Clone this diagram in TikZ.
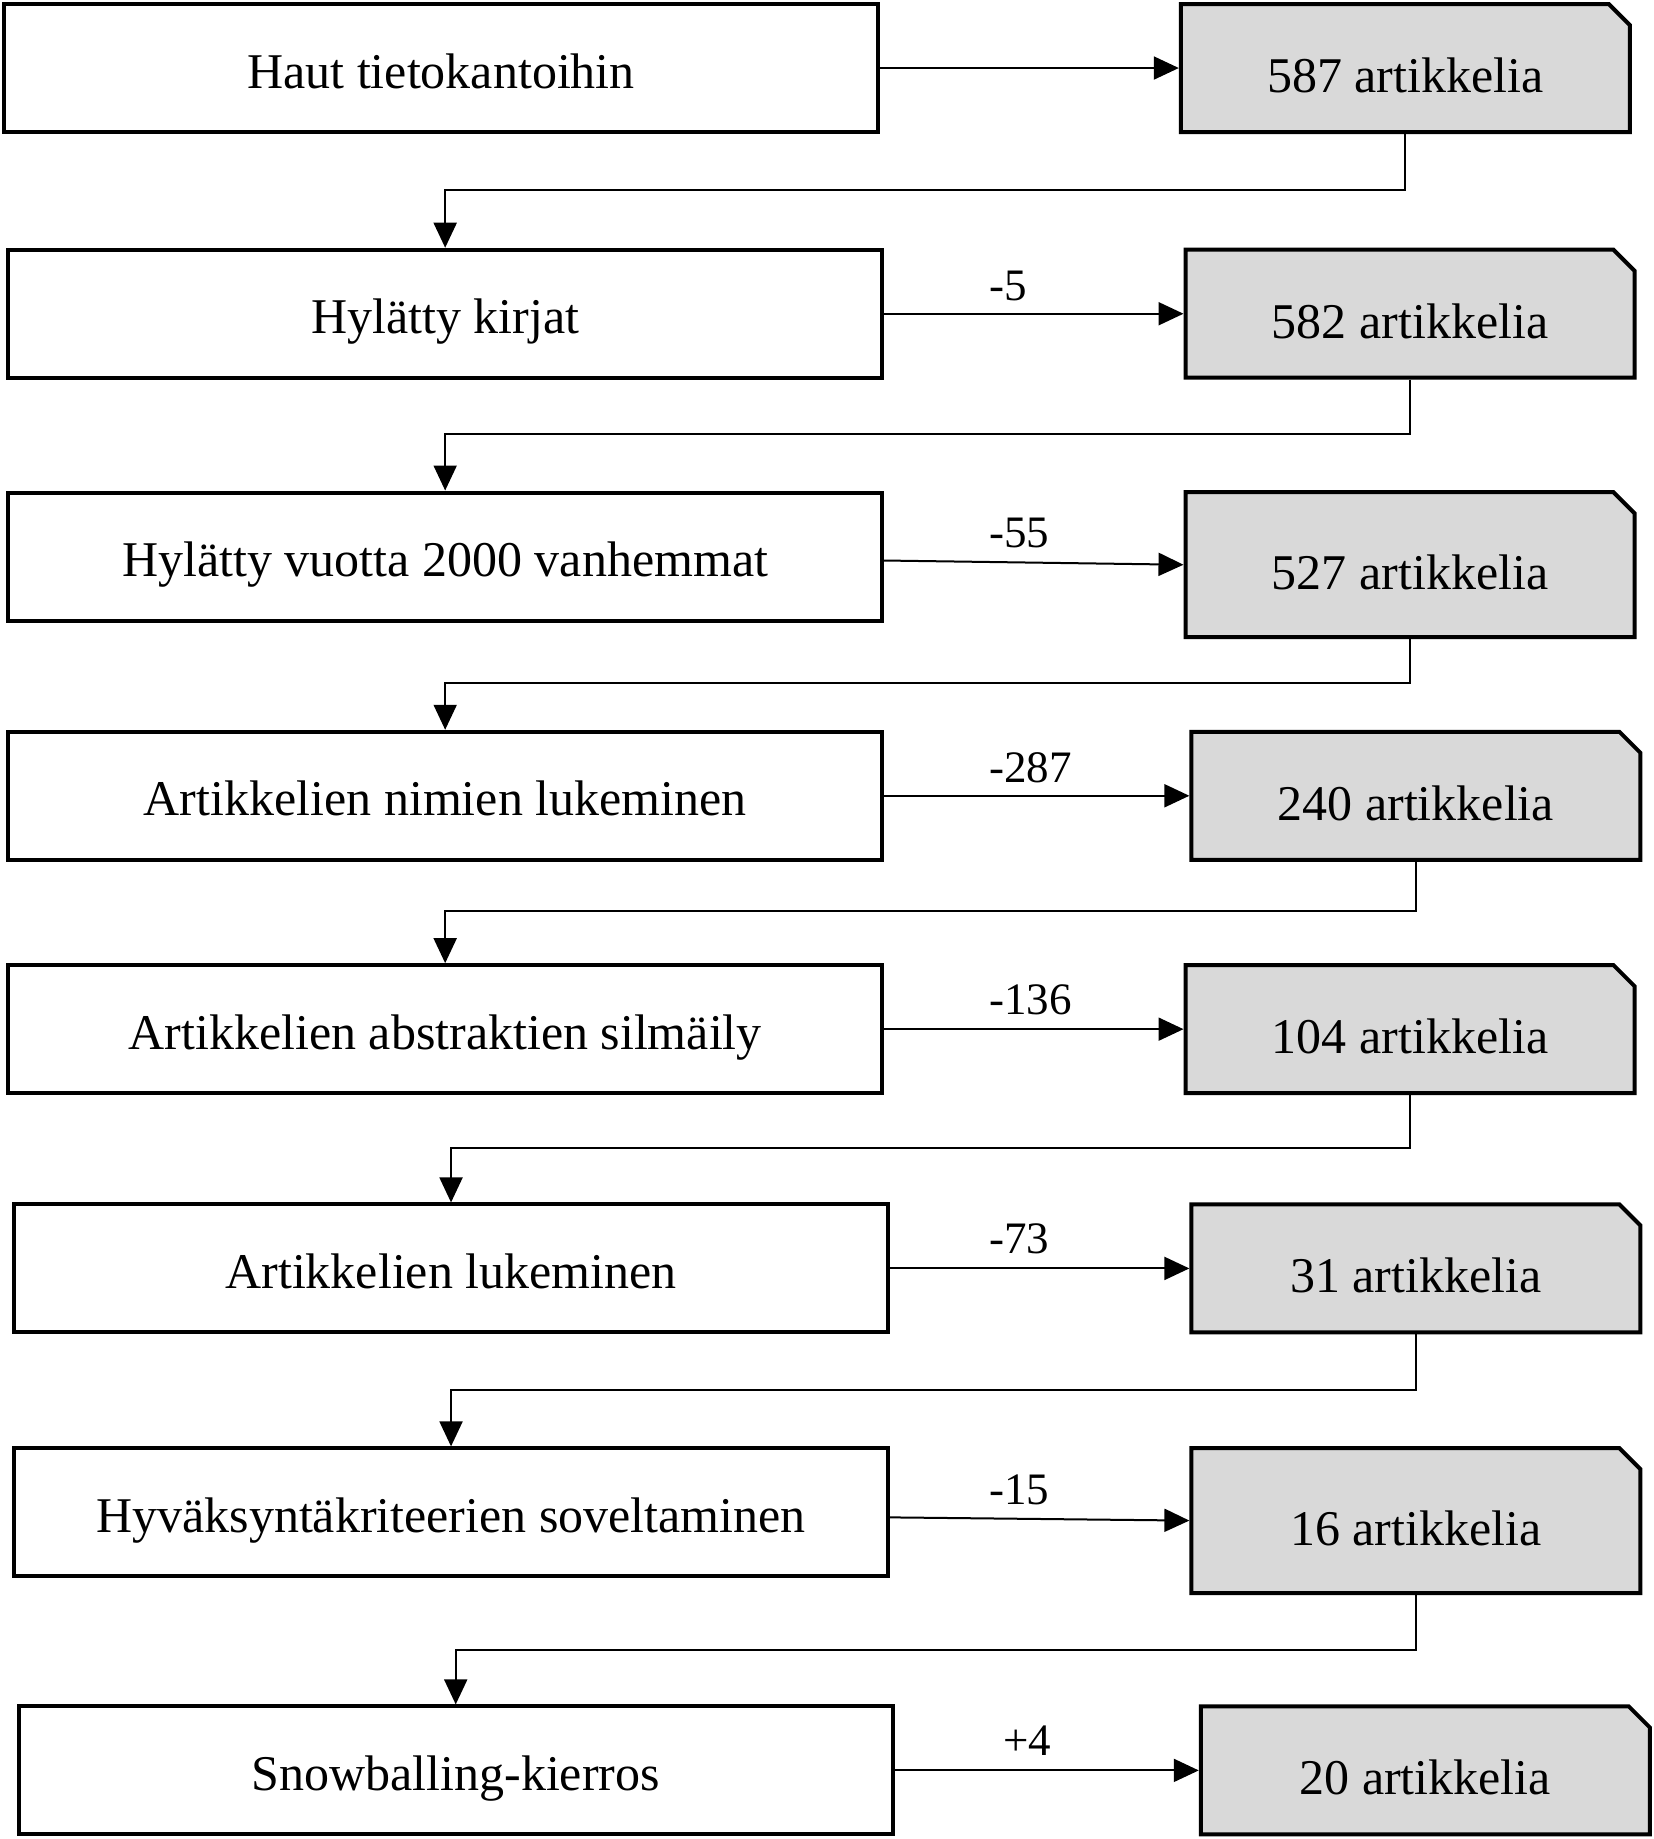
\documentclass[tikz,border=0pt]{standalone}
\usepackage{fontspec}
\setmainfont{Liberation Serif}
\usetikzlibrary{arrows.meta}
\pgfdeclarelayer{background}
\pgfsetlayers{background,main}
\definecolor{boxgrey}{HTML}{D9D9D9}
\begin{document}
\begin{tikzpicture}[x=1.17305pt,y=-1.17283pt,
  stepbox/.style={draw, line width=4pt, line join=miter, inner sep=0pt, outer sep=2pt,
    minimum width=874pt, minimum height=128pt,
    font=\fontsize{50}{60}\selectfont, text height=40pt, text depth=0pt},
  countbox/.style={inner sep=0pt, outer sep=2pt,
    minimum width=449pt, minimum height=128pt,
    font=\fontsize{50}{60}\selectfont, text height=49pt, text depth=0pt},
  tallbox/.style={minimum height=145pt},
  conn/.style={line width=2pt, -{Triangle[length=25pt,width=23pt]}},
  lbl/.style={anchor=base west, inner sep=0pt, font=\fontsize{45}{54}\selectfont}]
\useasboundingbox (0,0) rectangle (1410,1568);

% left process boxes
\node[stepbox] (L1) at (376,58)    {Haut tietokantoihin};
\node[stepbox] (L2) at (379.5,267.5) {Hylätty kirjat};
\node[stepbox] (L3) at (379.5,474.5) {Hylätty vuotta 2000 vanhemmat};
\node[stepbox] (L4) at (379.5,678.5) {Artikkelien nimien lukeminen};
\node[stepbox] (L5) at (379.5,877.5) {Artikkelien abstraktien silmäily};
\node[stepbox] (L6) at (384.5,1081.5) {Artikkelien lukeminen};
\node[stepbox] (L7) at (384.5,1289.5) {Hyväksyntäkriteerien soveltaminen};
\node[stepbox] (L8) at (388.5,1509.5) {Snowballing-kierros};

% right count boxes
\node[countbox] (G1) at (1198,58)     {587 artikkelia};
\node[countbox] (G2) at (1202,267.5)  {582 artikkelia};
\node[countbox,tallbox] (G3) at (1202,481.5) {527 artikkelia};
\node[countbox] (G4) at (1207,678.5)  {240 artikkelia};
\node[countbox] (G5) at (1202,877.5)  {104 artikkelia};
\node[countbox] (G6) at (1207,1081.5) {31 artikkelia};
\node[countbox,tallbox] (G7) at (1207,1296.5) {16 artikkelia};
\node[countbox] (G8) at (1215,1509.5) {20 artikkelia};

\begin{pgfonlayer}{background}
  \foreach \g in {G1,G2,G3,G4,G5,G6,G7,G8}{
    \draw[line width=4pt, line join=miter, fill=boxgrey]
      ([shift={(2pt,2pt)}]\g.south west) -- ([shift={(2pt,-2pt)}]\g.north west)
      -- ([shift={(-23pt,-2pt)}]\g.north east) -- ([shift={(-2pt,-23pt)}]\g.north east)
      -- ([shift={(-2pt,2pt)}]\g.south east) -- cycle;
  }
\end{pgfonlayer}

% horizontal arrows
\draw[conn] (L1.east) -- (G1.west);
\draw[conn] (L2.east) -- (G2.west);
\draw[conn] ([yshift=-4pt]L3.east) -- (G3.west);
\draw[conn] (L4.east) -- (G4.west);
\draw[conn] (L5.east) -- (G5.west);
\draw[conn] (L6.east) -- (G6.west);
\draw[conn] ([yshift=-5pt]L7.east) -- (G7.west);
\draw[conn] (L8.east) -- (G8.west);

% arrow labels
\node[lbl] (n2) at (843,256)  {-5};
\node[lbl] (n3) at (843,467)  {-55};
\node[lbl] (n4) at (843,667)  {-287};
\node[lbl] (n5) at (843,865)  {-136};
\node[lbl] (n6) at (843,1069) {-73};
\node[lbl] (n7) at (843,1283) {-15};
\node[lbl] (n8) at (855,1497) {+4};

% vertical connectors
\coordinate (m1) at (0,162);
\coordinate (m2) at (0,370);
\coordinate (m3) at (0,582);
\coordinate (m4) at (0,777);
\coordinate (m5) at (0,979);
\coordinate (m6) at (0,1185);
\coordinate (m7) at (0,1407);
\draw[conn] (G1.south) |- (L2.north |- m1) -- (L2.north);
\draw[conn] (G2.south) |- (L3.north |- m2) -- (L3.north);
\draw[conn] (G3.south) |- (L4.north |- m3) -- (L4.north);
\draw[conn] (G4.south) |- (L5.north |- m4) -- (L5.north);
\draw[conn] (G5.south) |- (L6.north |- m5) -- (L6.north);
\draw[conn] (G6.south) |- (L7.north |- m6) -- (L7.north);
\draw[conn] (G7.south) |- (L8.north |- m7) -- (L8.north);
\end{tikzpicture}
\end{document}
